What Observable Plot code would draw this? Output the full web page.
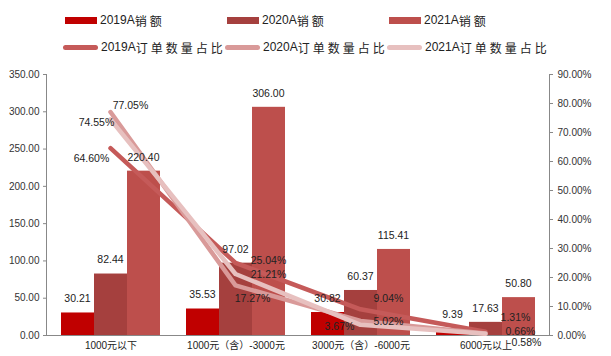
<!DOCTYPE html>
<html><head><meta charset="utf-8">
<script src="https://cdn.jsdelivr.net/npm/d3@7"></script>
<script src="https://cdn.jsdelivr.net/npm/@observablehq/plot@0.6"></script>
<style>
body{margin:0;background:#fff;font-family:"Liberation Sans",Arial,"Noto Sans CJK SC",sans-serif;}
#wrap{position:relative;width:611px;height:356px;}
#legend{position:absolute;left:0;top:0;width:611px;height:60px;}
.item{position:absolute;font-size:12px;color:#222;display:flex;align-items:center;white-space:nowrap;height:14px;}
.item .zh{font-family:"Noto Sans CJK SC",sans-serif;letter-spacing:3px;font-size:12px;}
.sw{display:inline-block;width:32px;margin-right:3px;}
.plot{position:absolute;left:0;top:60px;}
</style></head>
<body><div id="wrap"><div id="legend"></div></div>
<script>
const categories = ["1000元以下","1000元（含）-3000元","3000元（含）-6000元","6000元以上"];
const years = ["2019A","2020A","2021A"];
const sales2019 = [30.21,35.53,30.82,9.39];
const sales2020 = [82.44,97.02,60.37,17.63];
const sales2021 = [220.40,306.00,115.41,50.80];
const share2019 = [64.60,25.04,9.04,1.31];
const share2020 = [77.05,17.27,5.02,0.66];
const share2021 = [74.55,21.21,3.67,0.58];
const leftTicks = [0,50,100,150,200,250,300,350];
const rightTicks = [0,10,20,30,40,50,60,70,80,90];

const barColors = ["#c00000","#a5403e","#bd4f4c"];
const lineColors = ["#c55a59","#d99a99","#e7c0bf"];
const salesSeries = [sales2019,sales2020,sales2021];
const shareSeries = [share2019,share2020,share2021];

// label placement (pixel offsets) for the share labels
const shareLabelOffsets = [
  [[-19,10],[33,-2],[28,-11],[30,-14]],
  [[20,-6],[17,13],[28,1],[35,-2]],
  [[-14,3],[33,1],[-21,2],[41,9]]
];

const W=611,H=296, mL=46, mR=62, mT=14, mB=21;
const xScale = {domain: categories, paddingInner: 0.738, paddingOuter: 0.369, axis: null};
const font = "Liberation Sans, Arial, Noto Sans CJK SC, sans-serif";

// legend
const legend = document.getElementById("legend");
const cols = [65,227,389];
years.forEach((y,i)=>{
  const a = document.createElement("div");
  a.className="item"; a.style.left=cols[i]+"px"; a.style.top="13px";
  a.innerHTML=`<span class="sw" style="height:7px;background:${barColors[i]}"></span>${y}<span class="zh">销额</span>`;
  legend.appendChild(a);
  const b = document.createElement("div");
  b.className="item"; b.style.left=(cols[i]-2)+"px"; b.style.top="40px";
  b.innerHTML=`<span class="sw" style="width:35px;height:5px;border-radius:3px;background:${lineColors[i]}"></span>${y}<span class="zh">订单数量占比</span>`;
  legend.appendChild(b);
});

// bar plot (left axis)
const barData = [];
years.forEach((y,i)=>categories.forEach((c,j)=>barData.push({year:y,cat:c,v:salesSeries[i][j],i})));
const barMarks = [], barLabels = [];
years.forEach((y,i)=>{
  const d = barData.filter(r=>r.i===i);
  barMarks.push(Plot.barY(d,{x:"cat",y:"v",fill:barColors[i],dx:(i-1)*33}));
  barLabels.push(Plot.text(d,{x:"cat",y:"v",text:r=>r.v.toFixed(2),dx:(i-1)*33,dy:-14,fontSize:10.5,fill:"#222"}));
});
const p1 = Plot.plot({
  width:W,height:H,marginLeft:mL,marginRight:mR,marginTop:mT,marginBottom:mB,
  style:{fontFamily:font,background:"transparent"},
  x:xScale,
  y:{domain:[0,350],axis:null},
  marks:[
    ...barMarks,
    Plot.axisY({ticks:leftTicks,tickFormat:d=>d.toFixed(2),tickSize:3,tickPadding:4,fontSize:10,fill:"#333",stroke:"#888",anchor:"left",label:null}),
    Plot.axisX({tickSize:0,fontSize:10,fill:"#222",tickPadding:6,label:null}),
    Plot.frame({anchor:"left",stroke:"#888"}),
    Plot.ruleY([0],{stroke:"#888"})
  ]
});
p1.classList.add("plot");
document.getElementById("wrap").appendChild(p1);

// line plot (right axis), overlaid
const lineData = [];
years.forEach((y,i)=>categories.forEach((c,j)=>lineData.push({year:y,cat:c,v:shareSeries[i][j],i,j})));
const lineMarks = [];
years.forEach((y,i)=>{
  const d = lineData.filter(r=>r.i===i);
  lineMarks.push(Plot.line(d,{x:"cat",y:"v",stroke:lineColors[i],strokeWidth:4.5,strokeLinecap:"round",strokeLinejoin:"round"}));
});
const labelMarks = lineData.map(r=>{
  const [dx,dy] = shareLabelOffsets[r.i][r.j];
  return Plot.text([r],{x:"cat",y:"v",text:d=>d.v.toFixed(2)+"%",dx,dy,fontSize:10.5,fill:"#222"});
});
const p2 = Plot.plot({
  width:W,height:H,marginLeft:mL,marginRight:mR,marginTop:mT,marginBottom:mB,
  style:{fontFamily:font,background:"transparent"},
  x:xScale,
  y:{domain:[0,90],axis:null},
  marks:[
    ...lineMarks,
    Plot.axisY({ticks:rightTicks,tickFormat:d=>d.toFixed(2)+"%",tickSize:3,tickPadding:5,fontSize:10,fill:"#333",stroke:"#888",anchor:"right",label:null}),
    Plot.frame({anchor:"right",stroke:"#888"})
  ]
});
p2.classList.add("plot");
document.getElementById("wrap").appendChild(p2);

// value labels on top of everything
const p3 = Plot.plot({
  width:W,height:H,marginLeft:mL,marginRight:mR,marginTop:mT,marginBottom:mB,
  style:{fontFamily:font,background:"transparent"},
  x:xScale,
  y:{domain:[0,350],axis:null},
  marks:barLabels
});
p3.classList.add("plot");
document.getElementById("wrap").appendChild(p3);

const p4 = Plot.plot({
  width:W,height:H,marginLeft:mL,marginRight:mR,marginTop:mT,marginBottom:mB,
  style:{fontFamily:font,background:"transparent"},
  x:xScale,
  y:{domain:[0,90],axis:null},
  marks:labelMarks
});
p4.classList.add("plot");
document.getElementById("wrap").appendChild(p4);
</script></body></html>
